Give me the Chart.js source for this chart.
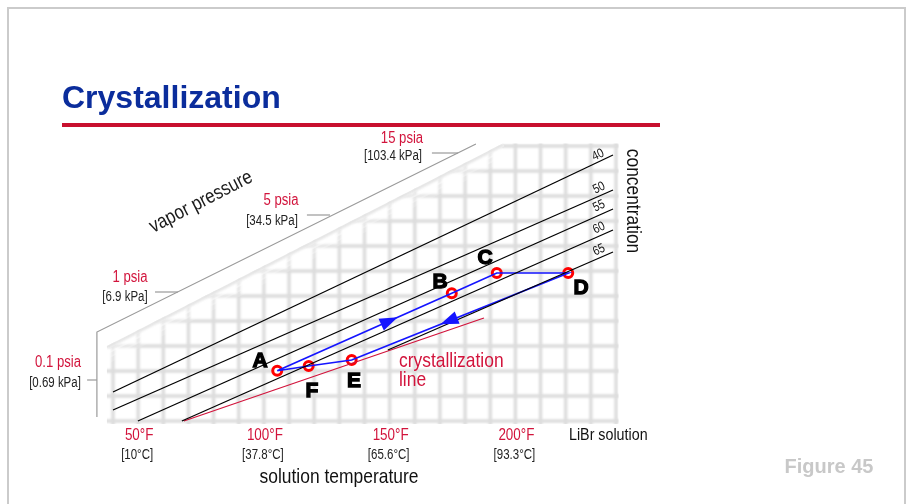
<!DOCTYPE html>
<html>
<head>
<meta charset="utf-8">
<script src="https://cdn.jsdelivr.net/npm/chart.js@4.4.1/dist/chart.umd.min.js"></script>
<style>
  html, body { margin: 0; padding: 0; background: #fff; }
  canvas { display: block; }
</style>
</head>
<body>
<canvas id="c" width="907" height="504"></canvas>
<script>
/* ── DATA ──────────────────────────────── */
// x = solution temperature (°F), y = vapor pressure grid rows
const GRID_X = [40, 50, 60, 70, 80, 90, 100, 110, 120, 130, 140, 150, 160, 170, 180, 190, 200, 210, 220, 230, 240];
const GRID_Y = [0, 1, 2, 3, 4, 5, 6, 7, 8, 9, 10, 11];
const GRID_EDGE_X = [37.6, 241, 241, 195, 37.6];
const GRID_EDGE_Y = [-0.12, -0.12, 11.1, 11.1, 3.0];

const TEMP_TICKS = [50, 100, 150, 200];
const TEMP_F = ['50°F', '100°F', '150°F', '200°F'];
const TEMP_C = ['[10°C]', '[37.8°C]', '[65.6°C]', '[93.3°C]'];

const VP_LABELS = ['0.1 psia', '1 psia', '5 psia', '15 psia'];
const VP_KPA = ['[0.69 kPa]', '[6.9 kPa]', '[34.5 kPa]', '[103.4 kPa]'];
const VP_LEVEL = [1.64, 5.16, 8.24, 10.72];
const VP_TICK_X0 = [29.7, 56.7, 117.1, 166.8];
const VP_TICK_X1 = [33.6, 65.8, 126.3, 177.2];

const OUTLINE_X = [33.6, 33.6, 184.3];
const OUTLINE_Y = [0.16, 3.56, 11.08];

const CONC = ['40', '50', '55', '60', '65'];
const CONC_X0 = [40, 40, 49.9, 67.4, 149.3];
const CONC_Y0 = [1.16, 0.44, 0, 0, 2.84];
const CONC_X1 = [238.8, 238.8, 238.8, 238.8, 238.8];
const CONC_Y1 = [10.64, 9.24, 8.48, 7.64, 6.76];

const CRYST_X = [68.2, 187.5];
const CRYST_Y = [0, 4.12];

const STATES  = ['A', 'B', 'C', 'D', 'E', 'F'];
const STATE_X = [105.3, 174.7, 192.6, 221.0, 134.9, 117.8];
const STATE_Y = [2.01, 5.11, 5.92, 5.92, 2.44, 2.2];
const CYCLE   = ['A', 'B', 'C', 'D', 'E', 'F', 'A'];
const ARROWS  = [['A', 'B', 0.69], ['D', 'E', 0.59]];

/* ── STYLE ─────────────────────────────── */
const RED   = '#d2143c';
const BLUE  = '#1414ff';
const GREY  = '#9a9a9a';
const FONT  = '"Liberation Sans", Arial, sans-serif';

function txt(ctx, s, x, y, o) {
  o = o || {};
  ctx.save();
  ctx.translate(x, y);
  if (o.rot) ctx.rotate(o.rot * Math.PI / 180);
  ctx.scale(o.sx || 0.82, 1);
  ctx.font = (o.weight || '400') + ' ' + (o.size || 14) + 'px ' + FONT;
  ctx.fillStyle = o.color || '#222';
  ctx.textAlign = o.align || 'center';
  ctx.textBaseline = o.base || 'middle';
  if (o.stroke) { ctx.strokeStyle = ctx.fillStyle; ctx.lineWidth = o.stroke; ctx.strokeText(s, 0, 0); }
  ctx.fillText(s, 0, 0);
  ctx.restore();
}

const pts = (xs, ys) => xs.map((v, i) => ({ x: v, y: ys[i] }));
const seg = (data, color, width) => ({
  data, showLine: true, borderColor: color, borderWidth: width,
  pointRadius: 0, fill: false, tension: 0, clip: false
});
const stateAt = k => { const i = STATES.indexOf(k); return { x: STATE_X[i], y: STATE_Y[i] }; };

/* ── PLUGINS ───────────────────────────── */
const slide = {
  id: 'slide',
  beforeDraw(chart) {
    const ctx = chart.ctx;
    ctx.save();
    ctx.fillStyle = '#fff';
    ctx.fillRect(0, 0, chart.width, chart.height);
    ctx.strokeStyle = '#cbcbcb';
    ctx.lineWidth = 2;
    ctx.strokeRect(8, 8, 897, 600);
    ctx.font = 'bold 32px ' + FONT;
    ctx.fillStyle = '#0b2d9c';
    ctx.textBaseline = 'alphabetic';
    ctx.fillText('Crystallization', 62, 108);
    ctx.fillStyle = '#c8102e';
    ctx.fillRect(62, 123, 598, 4);
    ctx.restore();
    txt(ctx, 'Figure 45', 829, 467, { size: 20, weight: 'bold', color: '#c8c8c8', sx: 1 });
  }
};

const grid = {
  id: 'grid',
  beforeDatasetsDraw(chart) {
    const { ctx, scales: { x, y } } = chart;
    ctx.save();
    ctx.beginPath();
    GRID_EDGE_X.forEach((gx, i) => {
      const px = x.getPixelForValue(gx), py = y.getPixelForValue(GRID_EDGE_Y[i]);
      i ? ctx.lineTo(px, py) : ctx.moveTo(px, py);
    });
    ctx.closePath();
    ctx.clip();
    ctx.filter = 'blur(1px)';
    ctx.strokeStyle = '#dcdcdc';
    ctx.lineWidth = 3.4;
    GRID_X.forEach(v => {
      const px = x.getPixelForValue(v);
      ctx.beginPath();
      ctx.moveTo(px, y.getPixelForValue(-0.3));
      ctx.lineTo(px, y.getPixelForValue(11.3));
      ctx.stroke();
    });
    GRID_Y.forEach(v => {
      const py = y.getPixelForValue(v);
      ctx.beginPath();
      ctx.moveTo(x.getPixelForValue(36), py);
      ctx.lineTo(x.getPixelForValue(242), py);
      ctx.stroke();
    });
    // soft fade along the sloped top
    const x0 = x.getPixelForValue(GRID_EDGE_X[4]), y0 = y.getPixelForValue(GRID_EDGE_Y[4]);
    const x1 = x.getPixelForValue(GRID_EDGE_X[3]), y1 = y.getPixelForValue(GRID_EDGE_Y[3]);
    ctx.filter = 'none';
    for (let k = 0; k < 4; k++) {
      ctx.strokeStyle = 'rgba(255,255,255,' + (0.55 - k * 0.13) + ')';
      ctx.lineWidth = 6;
      ctx.beginPath();
      ctx.moveTo(x0, y0 + k * 5);
      ctx.lineTo(x1, y1 + k * 5);
      ctx.stroke();
    }
    ctx.strokeStyle = 'rgba(226,226,226,0.9)';
    ctx.lineWidth = 4;
    ctx.filter = 'blur(1px)';
    ctx.beginPath();
    ctx.moveTo(x0, y0 + 1);
    ctx.lineTo(x1, y1 + 1);
    ctx.stroke();
    ctx.restore();
  }
};

const marks = {
  id: 'marks',
  afterDatasetsDraw(chart) {
    const { ctx, scales: { x, y } } = chart;
    // arrowheads on the cycle
    ARROWS.forEach(([a, b, t]) => {
      const p = stateAt(a), q = stateAt(b);
      const x0 = x.getPixelForValue(p.x), y0 = y.getPixelForValue(p.y);
      const x1 = x.getPixelForValue(q.x), y1 = y.getPixelForValue(q.y);
      const tx = x0 + (x1 - x0) * t, ty = y0 + (y1 - y0) * t;
      const ang = Math.atan2(y1 - y0, x1 - x0);
      ctx.save();
      ctx.translate(tx, ty);
      ctx.rotate(ang);
      ctx.fillStyle = BLUE;
      ctx.beginPath();
      ctx.moveTo(0, 0);
      ctx.lineTo(-18, -6.5);
      ctx.lineTo(-18, 6.5);
      ctx.closePath();
      ctx.fill();
      ctx.restore();
    });
  },
  afterDraw(chart) {
    const { ctx, scales: { x, y } } = chart;
    // vapor pressure scale
    const vpPos = [[58, 363, 55, 383], [130, 278, 125, 297], [281, 201, 272, 221], [402, 139, 393, 156]];
    VP_LABELS.forEach((s, i) => {
      const [lx, ly, kx, ky] = vpPos[i];
      txt(ctx, s, lx, ly, { size: 16, color: RED });
      txt(ctx, VP_KPA[i], kx, ky, { size: 14, color: '#222' });
    });
    txt(ctx, 'vapor pressure', 201, 202, { size: 20, rot: -27.3, sx: 0.85, color: '#1a1a1a' });

    // temperature scale
    TEMP_TICKS.forEach((t, i) => {
      const px = x.getPixelForValue(t) + 1;
      txt(ctx, TEMP_F[i], px, 436, { size: 16, color: RED, sx: 0.84 });
      txt(ctx, TEMP_C[i], px - 2, 455, { size: 14, color: '#222' });
    });
    txt(ctx, 'LiBr solution', 569, 435, { size: 17, align: 'left', sx: 0.84, color: '#111' });
    txt(ctx, 'solution temperature', 339, 477, { size: 21, sx: 0.83, color: '#111' });

    // concentration
    txt(ctx, 'concentration', 633, 201, { size: 20, rot: 90, sx: 0.87, color: '#111' });
    const concPos = [[598, 155], [599, 188], [599, 206], [599, 228], [599, 250]];
    CONC.forEach((c, i) => txt(ctx, c, concPos[i][0], concPos[i][1], { size: 13, rot: -25, color: '#111' }));

    // crystallization line label
    txt(ctx, 'crystallization', 399, 361, { size: 21, align: 'left', sx: 0.83, color: RED });
    txt(ctx, 'line', 399, 380, { size: 21, align: 'left', sx: 0.83, color: RED });

    // state letters
    const letterPos = { A: [260, 361], B: [440, 282], C: [485, 258], D: [581, 288], E: [354, 381], F: [312, 391] };
    STATES.forEach(s => txt(ctx, s, letterPos[s][0], letterPos[s][1], { size: 21, weight: 'bold', sx: 1, color: '#000', stroke: 1.3 }));
  }
};

/* ── CHART ─────────────────────────────── */
// x: 20..240 °F over pixels 62.7..616, y: 0..11 over pixels 421..146
new Chart(document.getElementById('c'), {
  type: 'scatter',
  data: {
    datasets: [
      seg(pts(OUTLINE_X, OUTLINE_Y), GREY, 1.2),
      ...VP_LEVEL.map((lv, i) => seg([{ x: VP_TICK_X0[i], y: lv }, { x: VP_TICK_X1[i], y: lv }], GREY, 1.2)),
      ...CONC.map((c, i) => seg([{ x: CONC_X0[i], y: CONC_Y0[i] }, { x: CONC_X1[i], y: CONC_Y1[i] }], '#000', 1.3)),
      seg(pts(CRYST_X, CRYST_Y), RED, 1.3),
      seg(CYCLE.map(stateAt), BLUE, 1.7),
      {
        data: pts(STATE_X, STATE_Y), showLine: false,
        pointRadius: 4.5, pointBorderWidth: 3,
        pointBorderColor: '#ff0000', pointBackgroundColor: '#fff', clip: false
      }
    ]
  },
  options: {
    responsive: false,
    animation: false,
    devicePixelRatio: 1,
    layout: { padding: { left: 62.7, right: 291, top: 146, bottom: 83 } },
    plugins: { legend: { display: false }, tooltip: { enabled: false } },
    scales: {
      x: { type: 'linear', min: 20, max: 240, display: false },
      y: { type: 'linear', min: 0, max: 11, display: false }
    }
  },
  plugins: [slide, grid, marks]
});
</script>
</body>
</html>
